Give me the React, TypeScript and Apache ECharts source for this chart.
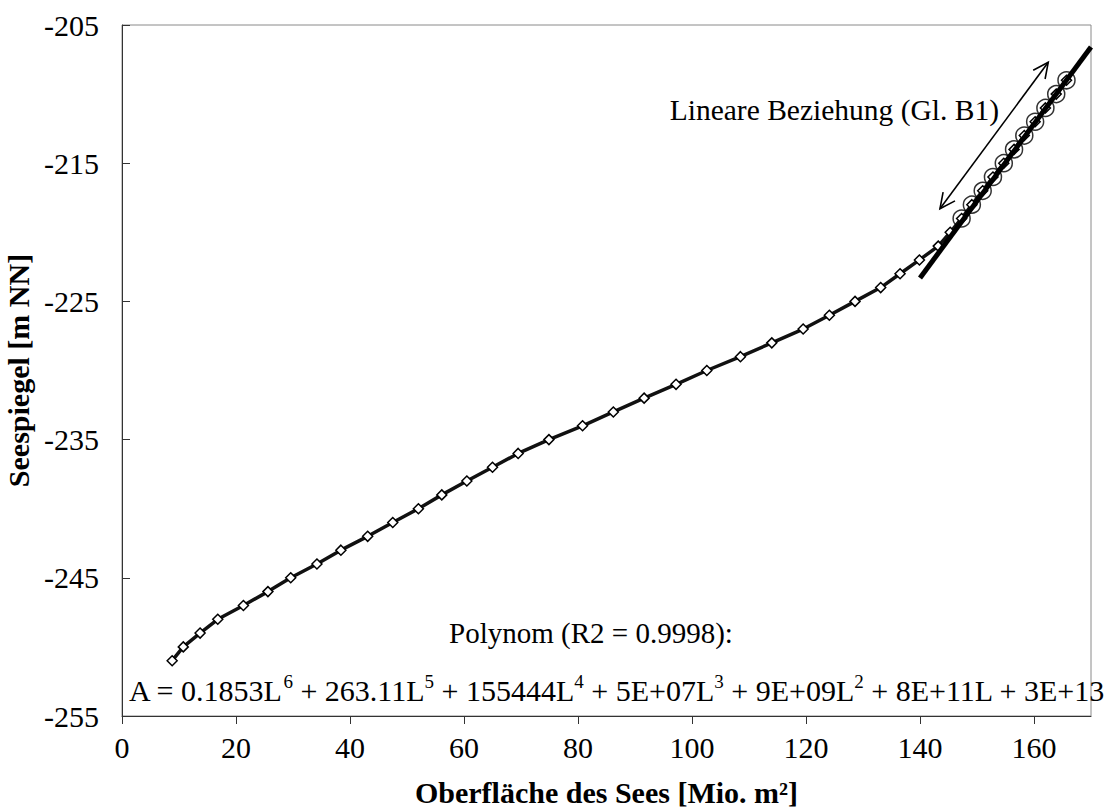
import React, { useEffect, useRef } from "react";
import * as echarts from "echarts";

// Lake level (m NN) and lake surface area (Mio. m²)
const levels = [
  -251, -250, -249, -248, -247, -246, -245, -244, -243, -242, -241, -240, -239, -238, -237,
  -236, -235, -234, -233, -232, -231, -230, -229, -228, -227, -226, -225, -224, -223, -222,
  -221, -220, -219, -218, -217, -216, -215, -214, -213, -212, -211, -210, -209,
];
const areas = [
  8.8, 10.75, 13.7, 16.8, 21.3, 25.6, 29.6, 34.2, 38.4, 43.1, 47.5, 52.0, 56.1, 60.5, 65.0,
  69.5, 74.9, 80.8, 86.2, 91.6, 97.2, 102.6, 108.5, 114.0, 119.5, 124.1, 128.6, 133.1, 136.5, 139.9,
  143.2, 145.3, 147.3, 149.1, 151.0, 152.8, 154.7, 156.5, 158.3, 160.2, 162.0, 163.9, 165.7,
];

// Points used for the linear relation (circled)
const linearLevels = [-219, -218, -217, -216, -215, -214, -213, -212, -211, -210, -209];
const linearAreas = [147.3, 149.1, 151.0, 152.8, 154.7, 156.5, 158.3, 160.2, 162.0, 163.9, 165.7];

// Linear fit line end points
const fitAreas = [140, 170];
const fitLevels = [-223.3, -206.6];

// Double-headed arrow end points (area, level)
const arrowStart = [143.5, -218.3];
const arrowEnd = [162.5, -207.7];

const xTicks = [0, 20, 40, 60, 80, 100, 120, 140, 160];
const yTicks = [-255, -245, -235, -225, -215, -205];

const FONT = "'Liberation Serif', 'Times New Roman', serif";

export default function App() {
  const ref = useRef<HTMLDivElement>(null);

  useEffect(() => {
    if (!ref.current) return;
    const chart = echarts.init(ref.current, null, { renderer: "svg" });

    const mainData = areas.map((a, i) => [a, levels[i]]);
    const circleData = linearAreas.map((a, i) => [a, linearLevels[i]]);
    const fitData = fitAreas.map((a, i) => [a, fitLevels[i]]);

    const option: any = {
      animation: false,
      backgroundColor: "#fff",
      grid: {
        left: 122,
        right: 15,
        top: 25,
        bottom: 93,
        containLabel: false,
        outerBoundsMode: "none",
        show: true,
        borderColor: "#8a8a8a",
        borderWidth: 1,
        backgroundColor: "transparent",
      },
      xAxis: {
        type: "value",
        min: 0,
        max: 170,
        name: "Oberfläche des Sees [Mio. m²]",
        nameLocation: "middle",
        nameGap: 61,
        nameTextStyle: { fontFamily: FONT, fontSize: 30, fontWeight: "bold", color: "#000" },
        axisLine: { show: true, onZero: false, lineStyle: { color: "#333", width: 1 } },
        axisTick: { show: true, inside: false, length: 8, customValues: xTicks, lineStyle: { color: "#333" } },
        axisLabel: {
          customValues: xTicks,
          fontFamily: FONT,
          fontSize: 30,
          color: "#000",
          margin: 16,
        },
        splitLine: { show: false },
      },
      yAxis: {
        type: "value",
        min: -255,
        max: -205,
        name: "Seespiegel [m NN]",
        nameLocation: "middle",
        nameGap: 85,
        nameTextStyle: { fontFamily: FONT, fontSize: 30, fontWeight: "bold", color: "#000" },
        axisLine: { show: true, onZero: false, lineStyle: { color: "#333", width: 1 } },
        axisTick: { show: true, inside: true, length: 8, customValues: yTicks, lineStyle: { color: "#333" } },
        axisLabel: {
          customValues: yTicks,
          fontFamily: FONT,
          fontSize: 30,
          color: "#000",
          margin: 23,
        },
        splitLine: { show: false },
      },
      series: [
        {
          type: "line",
          data: mainData,
          symbol: "diamond",
          symbolSize: 10,
          showSymbol: true,
          lineStyle: { color: "#111", width: 3.5 },
          itemStyle: { color: "#fff", borderColor: "#000", borderWidth: 1.5 },
          z: 2,
        },
        {
          type: "line",
          data: fitData,
          symbol: "none",
          lineStyle: { color: "#000", width: 5 },
          z: 3,
        },
        {
          type: "scatter",
          data: circleData,
          symbol: "circle",
          symbolSize: 17,
          itemStyle: { color: "rgba(0,0,0,0)", borderColor: "#000", borderWidth: 1.5 },
          z: 4,
        },
      ],
    };

    chart.setOption(option);

    const p1 = chart.convertToPixel({ gridIndex: 0 }, arrowStart) as number[];
    const p2 = chart.convertToPixel({ gridIndex: 0 }, arrowEnd) as number[];
    const ang = Math.atan2(p2[1] - p1[1], p2[0] - p1[0]);
    const headLen = 17;
    const spread = 0.45;
    const head = (tip: number[], dir: number) => [
      [tip[0] - headLen * Math.cos(dir - spread), tip[1] - headLen * Math.sin(dir - spread)],
      [tip[0], tip[1]],
      [tip[0] - headLen * Math.cos(dir + spread), tip[1] - headLen * Math.sin(dir + spread)],
    ];
    const arrowStyle = { stroke: "#000", lineWidth: 1.6, fill: null };

    chart.setOption({
      graphic: [
        {
          type: "line",
          shape: { x1: p1[0], y1: p1[1], x2: p2[0], y2: p2[1] },
          style: arrowStyle,
          z: 10,
        },
        { type: "polyline", shape: { points: head(p2, ang) }, style: arrowStyle, z: 10 },
        { type: "polyline", shape: { points: head(p1, ang + Math.PI) }, style: arrowStyle, z: 10 },
        {
          type: "text",
          x: 999,
          y: 110,
          style: {
            text: "Lineare Beziehung (Gl. B1)",
            font: `29.5px ${FONT}`,
            fill: "#000",
            align: "right",
            verticalAlign: "middle",
          },
          z: 10,
        },
        {
          type: "text",
          x: 591,
          y: 633,
          style: {
            text: "Polynom (R2 = 0.9998):",
            font: `29px ${FONT}`,
            fill: "#000",
            align: "center",
            verticalAlign: "middle",
          },
          z: 10,
        },
        {
          type: "text",
          x: 129,
          y: 690,
          style: {
            text:
              "A = 0.1853L{s|6} + 263.11L{s|5} + 155444L{s|4} + 5E+07L{s|3} + 9E+09L{s|2} + 8E+11L + 3E+13",
            fontFamily: FONT,
            fontSize: 30,
            fill: "#000",
            align: "left",
            verticalAlign: "middle",
            lineHeight: 36,
            rich: {
              s: { fontFamily: FONT, fontSize: 19, verticalAlign: "top", lineHeight: 19, fill: "#000" },
            },
          },
          z: 10,
        },
      ],
    });

    return () => chart.dispose();
  }, []);

  return (
    <div
      ref={ref}
      style={{ position: "absolute", left: 0, top: 0, width: 1106, height: 809, background: "#fff" }}
    />
  );
}
